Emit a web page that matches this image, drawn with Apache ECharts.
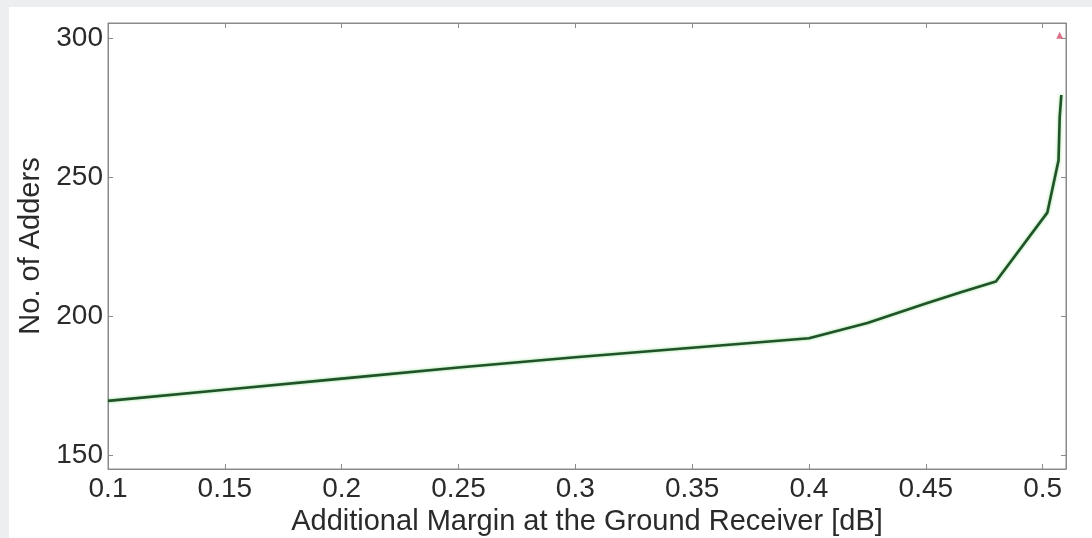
<!DOCTYPE html>
<html>
<head>
<meta charset="utf-8">
<script src="https://cdn.jsdelivr.net/npm/echarts@6/dist/echarts.min.js"></script>
<style>
  html, body { margin: 0; padding: 0; width: 1092px; height: 538px; background: #eceef0; overflow: hidden; }
  #chart { position: absolute; left: 9px; top: 7px; width: 1083px; height: 531px; background: #ffffff; }
</style>
</head>
<body>
<div id="chart"></div>
<script>
// Data
var marginDb = [0.10, 0.15, 0.20, 0.25, 0.30, 0.35, 0.40, 0.425, 0.45, 0.465, 0.48, 0.502, 0.5068, 0.5073, 0.508];
var adders   = [169.5, 173.5, 177.5, 181.5, 185.2, 188.6, 192.0, 197.5, 204.5, 208.6, 212.4, 237.2, 256.0, 271.5, 279.5];
var markerX = [0.5073];
var markerY = [301];
var xTicks = [0.1, 0.15, 0.2, 0.25, 0.3, 0.35, 0.4, 0.45, 0.5];
var yTicks = [150, 200, 250, 300];
var xTitle = 'Additional Margin at the Ground Receiver [dB]';
var yTitle = 'No. of Adders';

var lineData = marginDb.map(function (x, i) { return [x, adders[i]]; });
var markData = markerX.map(function (x, i) { return [x, markerY[i]]; });

var font = '"Liberation Sans", Arial, sans-serif';
var axisColor = '#8a8a8a';
var textColor = '#2a2a2a';

var chart = echarts.init(document.getElementById('chart'), null, { renderer: 'canvas' });
chart.setOption({
  animation: false,
  backgroundColor: '#ffffff',
  grid: { left: 99, right: 26, top: 16, bottom: 69, show: true, borderColor: axisColor, borderWidth: 1,
          containLabel: false, outerBoundsMode: 'none' },
  xAxis: [{
    type: 'value', min: 0.1, max: 0.51, position: 'bottom',
    name: xTitle, nameLocation: 'middle', nameGap: 31,
    nameTextStyle: { fontFamily: font, fontSize: 29, color: textColor },
    axisLine: { show: true, lineStyle: { color: axisColor } },
    axisTick: { show: true, inside: true, length: 5, customValues: xTicks, lineStyle: { color: axisColor } },
    axisLabel: { customValues: xTicks, margin: 6, fontFamily: font, fontSize: 28, color: textColor,
      formatter: function (v) { return String(Math.round(v * 100) / 100); } },
    splitLine: { show: false }
  }, {
    type: 'value', min: 0.1, max: 0.51, position: 'top',
    axisLine: { show: true, lineStyle: { color: axisColor } },
    axisTick: { show: true, inside: true, length: 5, customValues: xTicks, lineStyle: { color: axisColor } },
    axisLabel: { show: false },
    splitLine: { show: false }
  }],
  yAxis: [{
    type: 'value', min: 145, max: 305.4, position: 'left',
    name: yTitle, nameLocation: 'middle', nameGap: 58, nameRotate: 90,
    nameTextStyle: { fontFamily: font, fontSize: 29, color: textColor },
    axisLine: { show: true, lineStyle: { color: axisColor } },
    axisTick: { show: true, inside: true, length: 5, customValues: yTicks, lineStyle: { color: axisColor } },
    axisLabel: { customValues: yTicks, margin: 5, fontFamily: font, fontSize: 28, color: textColor },
    splitLine: { show: false }
  }, {
    type: 'value', min: 145, max: 305.4, position: 'right',
    axisLine: { show: true, lineStyle: { color: axisColor } },
    axisTick: { show: true, inside: true, length: 5, customValues: yTicks, lineStyle: { color: axisColor } },
    axisLabel: { show: false },
    splitLine: { show: false }
  }],
  series: [{
    type: 'line',
    data: lineData,
    showSymbol: false,
    symbol: 'none',
    lineStyle: { color: '#22522a', width: 2.6, shadowColor: 'rgba(60,200,60,0.6)', shadowBlur: 3 },
    z: 3
  }, {
    type: 'scatter',
    data: markData,
    symbol: 'triangle',
    symbolSize: 7,
    itemStyle: { color: '#d0506a' },
    z: 4
  }]
});
</script>
</body>
</html>
